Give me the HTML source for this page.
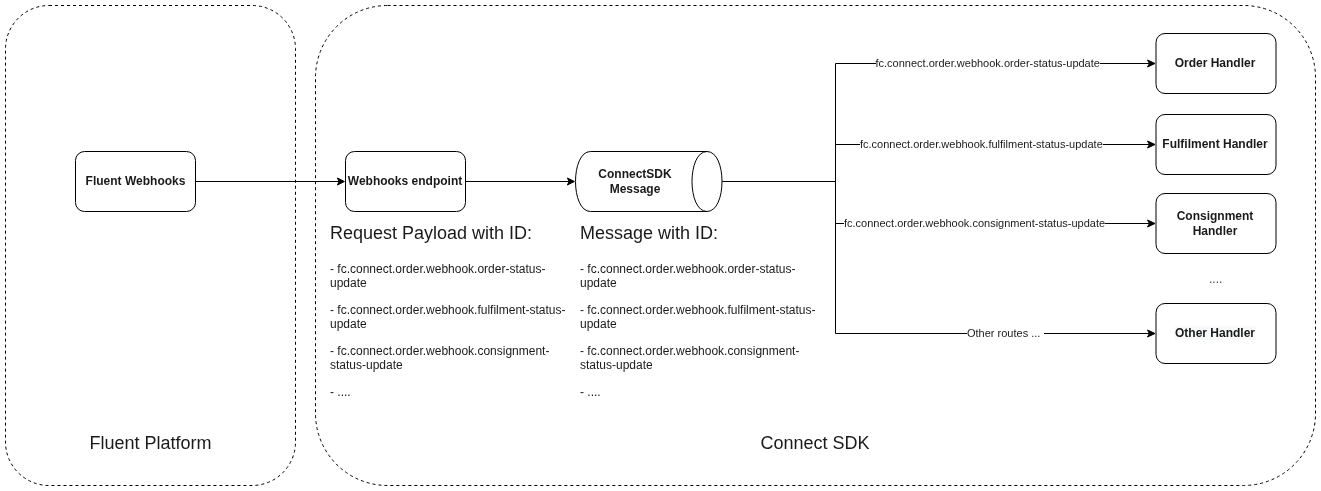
<!DOCTYPE html>
<html>
<head>
<meta charset="utf-8">
<title>Connect SDK Webhooks</title>
<style>
html,body{margin:0;padding:0;background:#fff;}
body{width:1321px;height:491px;overflow:hidden;position:relative;font-family:"Liberation Sans",Arial,Helvetica,sans-serif;color:#1a1a1a;}
#wrap{position:absolute;left:0;top:0;width:1321px;height:491px;will-change:transform;}
svg{position:absolute;left:0;top:0;}
.t{position:absolute;white-space:nowrap;}
.b{font-weight:bold;font-size:12px;line-height:14px;text-align:center;width:120px;}
.e{font-size:11px;line-height:13px;background:#fff;}
.big{font-size:18px;line-height:22px;}
.list{position:absolute;font-size:12px;line-height:14px;width:240px;white-space:nowrap;}
</style>
</head>
<body>
<div id="wrap">
<svg width="1321" height="491" viewBox="0 0 1321 491">
  <g fill="none" stroke="#000" stroke-width="1" stroke-dasharray="3 3">
    <rect x="5.5" y="5.5" width="290" height="480" rx="43.5" ry="43.5"/>
    <rect x="315.5" y="5.5" width="1000" height="480" rx="72" ry="72"/>
  </g>
  <g fill="#fff" stroke="#000" stroke-width="1">
    <rect x="75.5" y="151.5" width="120" height="60" rx="9" ry="9"/>
    <rect x="345.5" y="151.5" width="120" height="60" rx="9" ry="9"/>
    <rect x="1156" y="33.5" width="120" height="60" rx="9" ry="9"/>
    <rect x="1156" y="114.5" width="120" height="60" rx="9" ry="9"/>
    <rect x="1156" y="193.5" width="120" height="60" rx="9" ry="9"/>
    <rect x="1156" y="303.5" width="120" height="60" rx="9" ry="9"/>
    <path d="M590.5 151.5 L707 151.5 C727 151.5 727 211.5 707 211.5 L590.5 211.5 C570.5 211.5 570.5 151.5 590.5 151.5 Z"/>
    <path d="M707 151.5 C687 151.5 687 211.5 707 211.5" fill="none"/>
  </g>
  <g fill="none" stroke="#000" stroke-width="1">
    <path d="M195.5 181.5 L339 181.5"/>
    <path d="M465.5 181.5 L569 181.5"/>
    <path d="M722 181.5 L835.5 181.5"/>
    <path d="M1149 63.5 L835.5 63.5 L835.5 333.5 L1149 333.5"/>
    <path d="M835.5 144.5 L1149 144.5"/>
    <path d="M835.5 223.5 L1149 223.5"/>
  </g>
  <g fill="#000" stroke="#000" stroke-width="1" stroke-miterlimit="10">
    <path d="M344.4 181.5 L337.4 185 L339.1 181.5 L337.4 178 Z"/>
    <path d="M574.4 181.5 L567.4 185 L569.1 181.5 L567.4 178 Z"/>
    <path d="M1155 63.5 L1147.5 67 L1149.4 63.5 L1147.5 60 Z"/>
    <path d="M1155 144.5 L1147.5 148 L1149.4 144.5 L1147.5 141 Z"/>
    <path d="M1155 223.5 L1147.5 227 L1149.4 223.5 L1147.5 220 Z"/>
    <path d="M1155 333.5 L1147.5 337 L1149.4 333.5 L1147.5 330 Z"/>
  </g>
</svg>
<div class="t b" style="left:75.5px;top:174px;">Fluent Webhooks</div>
<div class="t b" style="left:345px;top:174px;">Webhooks endpoint</div>
<div class="t b" style="left:575px;top:167px;line-height:15px;">ConnectSDK<br>Message</div>
<div class="t b" style="left:1155px;top:56px;">Order Handler</div>
<div class="t b" style="left:1155px;top:137px;">Fulfilment Handler</div>
<div class="t b" style="left:1155px;top:209px;line-height:15px;">Consignment<br>Handler</div>
<div class="t b" style="left:1155px;top:326px;"><span style="background:#f8f9fa">Other Handler</span></div>
<div class="t" style="left:1209px;top:272px;font-size:12px;line-height:14px;color:#444;">....</div>
<div class="t e" style="left:875.5px;top:57px;">fc.connect.order.webhook.order-status-update</div>
<div class="t e" style="left:860px;top:138px;">fc.connect.order.webhook.fulfilment-status-update</div>
<div class="t e" style="left:844px;top:217px;">fc.connect.order.webhook.consignment-status-update</div>
<div class="t e" style="left:967px;top:327px;">Other routes ...&nbsp;<span style="display:inline-block;width:1px"></span></div>
<div class="t big" style="left:89.5px;top:432px;">Fluent Platform</div>
<div class="t big" style="left:760.5px;top:432px;">Connect SDK</div>
<div class="t big" style="left:330px;top:223px;line-height:21.6px;">Request Payload with ID:</div>
<div class="list" style="left:330px;top:262px;">- fc.connect.order.webhook.order-status-<br>update</div>
<div class="list" style="left:330px;top:303px;">- fc.connect.order.webhook.fulfilment-status-<br>update</div>
<div class="list" style="left:330px;top:344px;">- fc.connect.order.webhook.consignment-<br>status-update</div>
<div class="list" style="left:330px;top:385px;">- ....</div>
<div class="t big" style="left:580px;top:223px;line-height:21.6px;">Message with ID:</div>
<div class="list" style="left:580px;top:262px;">- fc.connect.order.webhook.order-status-<br>update</div>
<div class="list" style="left:580px;top:303px;">- fc.connect.order.webhook.fulfilment-status-<br>update</div>
<div class="list" style="left:580px;top:344px;">- fc.connect.order.webhook.consignment-<br>status-update</div>
<div class="list" style="left:580px;top:385px;">- ....</div>
</div>
</body>
</html>
